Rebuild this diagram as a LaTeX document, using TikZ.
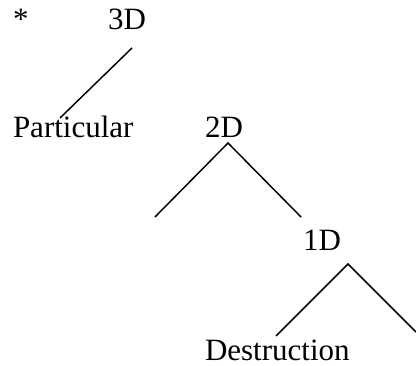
\documentclass[tikz,border=0pt]{standalone}
\usepackage{fontspec}
\setmainfont{Liberation Serif}
\begin{document}
\begin{tikzpicture}[x=0.75pt,y=-0.75pt,
  lbl/.style={anchor=base west,inner sep=0pt,outer sep=0pt,font=\fontsize{23.25}{28}\selectfont},
  edge/.style={line width=1.1pt}]
\useasboundingbox (0,0) rectangle (416,366);
\node[lbl] (star) at (13,30) {*};
\node[lbl] (n3d) at (108,30) {3D};
\node[lbl] (part) at (13,138) {Particular};
\node[lbl] (n2d) at (205,138) {2D};
\node[lbl] (n1d) at (303,250) {1D};
\node[lbl] (dest) at (205,360) {Destruction};
\coordinate (a3) at (132,48);
\coordinate (b3) at (60,118);
\coordinate (a2) at (228,143);
\coordinate (l2) at (155,217);
\coordinate (r2) at (301,217);
\coordinate (a1) at (348,264);
\coordinate (l1) at (276,336);
\coordinate (r1) at (416,332);
\draw[edge] (a3) -- (b3);
\draw[edge] (l2) -- (a2) -- (r2);
\draw[edge] (l1) -- (a1) -- (r1);
\end{tikzpicture}
\end{document}
